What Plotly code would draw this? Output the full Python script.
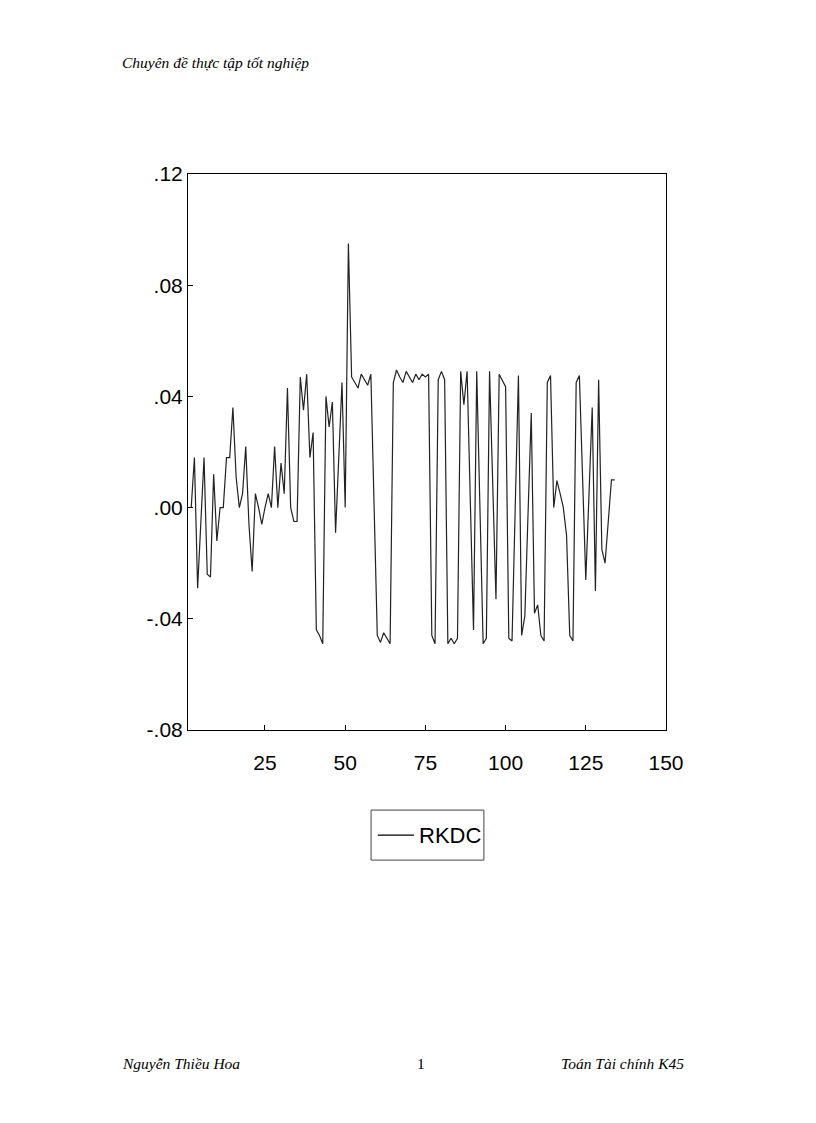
import plotly.graph_objects as go

OBS = list(range(2, 135))
RKDC = [
    0.0, 0.018, -0.029, -0.005, 0.018, -0.024, -0.025, 0.012, -0.012, 0.0,
    0.0, 0.018, 0.018, 0.036, 0.011, 0.0, 0.005, 0.022, -0.006, -0.023,
    0.005, 0.0, -0.006, 0.0, 0.005, 0.0, 0.022, 0.0, 0.016, 0.005,
    0.043, 0.0, -0.005, -0.005, 0.047, 0.035, 0.048, 0.018, 0.027, -0.044,
    -0.046, -0.049, 0.040, 0.029, 0.038, -0.009, 0.018, 0.045, 0.0, 0.095,
    0.047, 0.045, 0.043, 0.048, 0.046, 0.044, 0.048, 0.0, -0.046, -0.0485,
    -0.045, -0.047, -0.049, 0.045, 0.0495, 0.047, 0.045, 0.049, 0.047, 0.045,
    0.048, 0.046, 0.048, 0.047, 0.048, -0.046, -0.049, 0.046, 0.049, 0.046,
    -0.049, -0.047, -0.049, -0.047, 0.049, 0.037, 0.049, 0.0, -0.044, 0.049,
    0.0, -0.049, -0.047, 0.049, 0.008, -0.033, 0.048, 0.046, 0.0435, -0.047,
    -0.048, 0.0, 0.0475, -0.046, -0.039, -0.002, 0.034, -0.038, -0.035, -0.046,
    -0.048, 0.045, 0.0475, 0.0, 0.0097, 0.005, 0.0, -0.01, -0.046, -0.048,
    0.045, 0.0475, 0.011, -0.026, 0.005, 0.036, -0.030, 0.046, -0.015, -0.020,
    -0.005, 0.010, 0.010,
]
Y_TICKS = [-0.08, -0.04, 0.0, 0.04, 0.08, 0.12]
Y_TICK_TEXT = ['-.08', '-.04', '.00', '.04', '.08', '.12']
X_TICKS = [25, 50, 75, 100, 125, 150]

fig = go.Figure()
fig.add_trace(go.Scatter(
    x=OBS, y=RKDC, mode='lines', name='RKDC',
    line=dict(color='#222222', width=1.2), showlegend=False,
))

axis_common = dict(
    showline=True, linecolor='black', linewidth=1, mirror=True,
    showgrid=False, zeroline=False, ticks='inside', ticklen=5,
    tickcolor='black', tickfont=dict(family='Liberation Sans', size=21, color='black'),
)
fig.update_xaxes(range=[1, 150], tickvals=X_TICKS, ticklabelstandoff=14, **axis_common)
fig.update_yaxes(range=[-0.08, 0.12], tickvals=Y_TICKS, ticktext=Y_TICK_TEXT, **axis_common)

# Legend box drawn by hand, EViews style
fig.add_shape(type='rect', xref='paper', yref='paper',
              x0=0.383, x1=0.619, y0=-0.234, y1=-0.144,
              line=dict(color='#444444', width=1))
fig.add_shape(type='line', xref='paper', yref='paper',
              x0=0.397, x1=0.473, y0=-0.189, y1=-0.189,
              line=dict(color='black', width=1.2))
fig.add_annotation(xref='paper', yref='paper', x=0.479, y=-0.189,
                   text='RKDC', showarrow=False, xanchor='left', yanchor='middle',
                   font=dict(family='Liberation Sans', size=22, color='black'))

# Page header and footer
page_font = dict(family='Liberation Serif', size=15.5, color='black')
fig.add_annotation(xref='paper', yref='paper', x=-0.142, y=1.2,
                   text='<i>Chuyên đề thực tập tốt nghiệp</i>', showarrow=False,
                   xanchor='left', yanchor='middle', font=page_font)
fig.add_annotation(xref='paper', yref='paper', x=-0.142, y=-0.599,
                   text='<i>Nguyễn Thiều Hoa</i>', showarrow=False,
                   xanchor='left', yanchor='middle', font=page_font)
fig.add_annotation(xref='paper', yref='paper', x=0.487, y=-0.599,
                   text='1', showarrow=False, xanchor='center', yanchor='middle',
                   font=page_font)
fig.add_annotation(xref='paper', yref='paper', x=1.042, y=-0.599,
                   text='<i>Toán Tài chính K45</i>', showarrow=False,
                   xanchor='right', yanchor='middle', font=page_font)

fig.update_layout(
    width=816, height=1123,
    margin=dict(l=180, r=158, t=166, b=401),
    paper_bgcolor='white', plot_bgcolor='white',
)

fig.write_html("out.html")
